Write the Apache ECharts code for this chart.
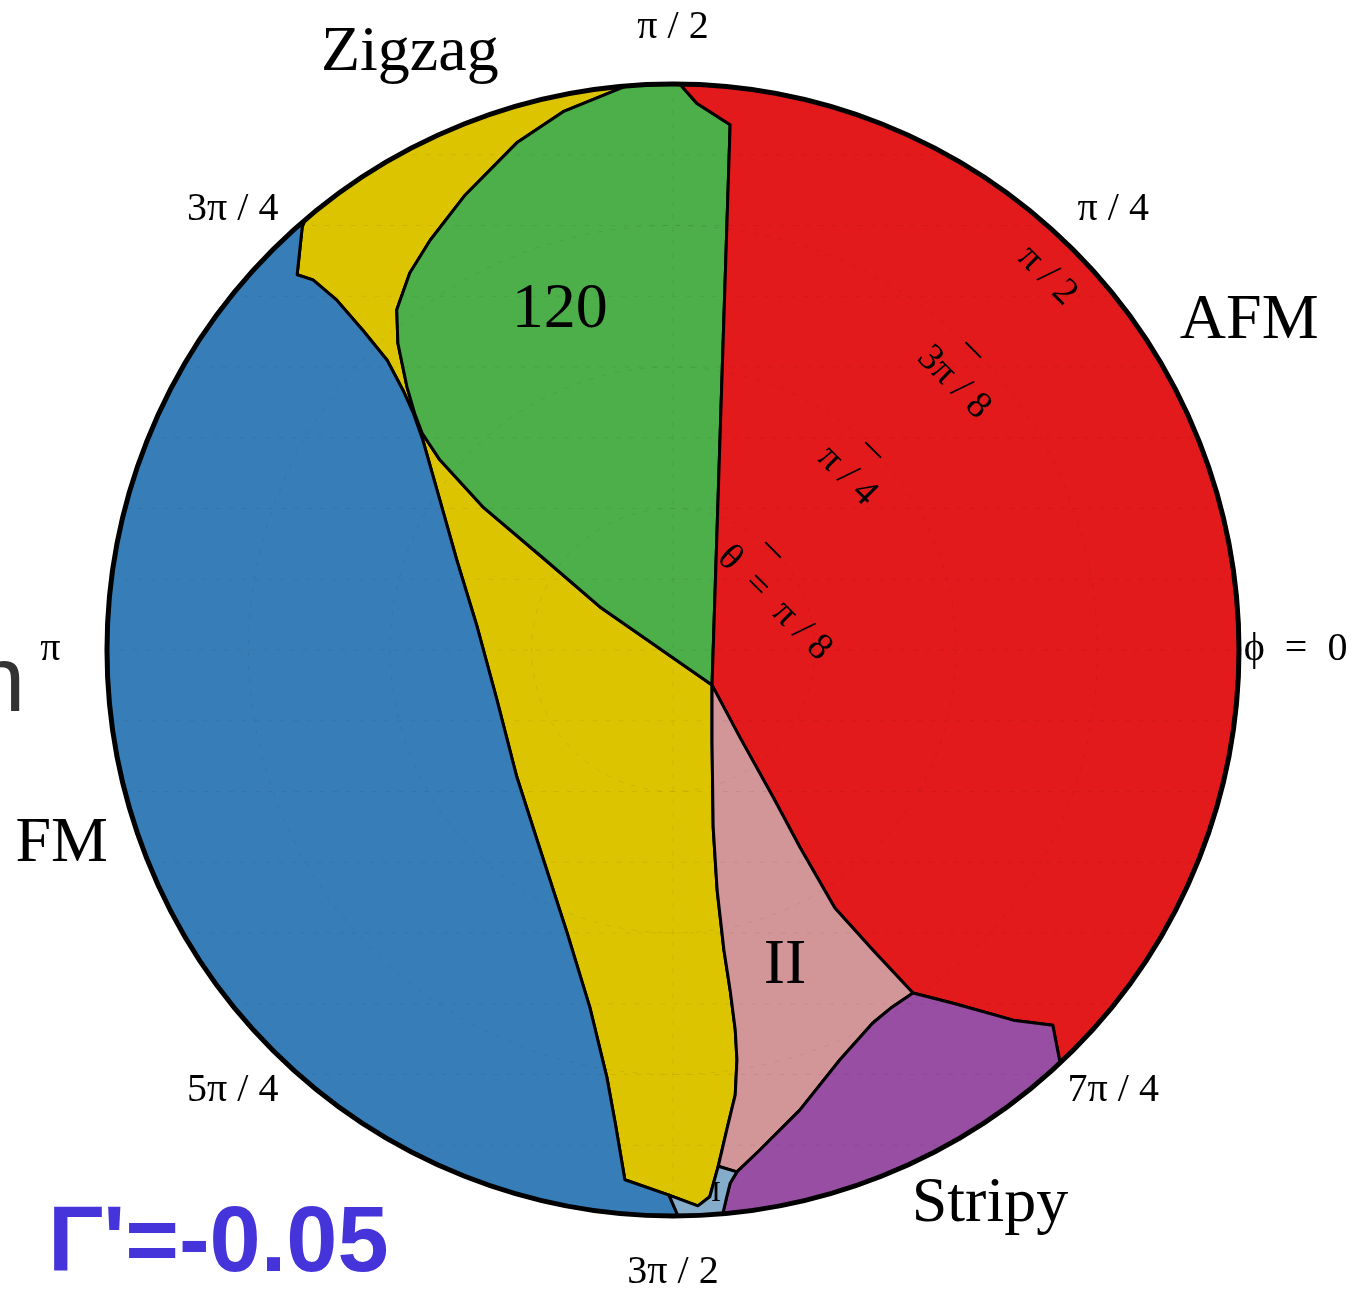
<!DOCTYPE html>
<html>
<head>
<meta charset="utf-8">
<script src="https://cdn.jsdelivr.net/npm/echarts@6/dist/echarts.min.js"></script>
<style>
  html, body { margin: 0; padding: 0; background: #ffffff; }
  #chart { width: 1354px; height: 1291px; }
</style>
</head>
<body>
<div id="chart"></div>
<script>
// Phase diagram on the (theta, phi) disk, Gamma' = -0.05.
// All points are in units of the disk radius, disk centred on the origin.

// Triple points and points where boundaries meet the rim
const J  = [0.069, -0.062];   // AFM / 120 / Zigzag / II
const K  = [0.424, -0.606];   // AFM / II / Stripy
const P1 = [-0.443, 0.383];   // pinch of the Zigzag strip between FM and 120
const Q  = [-0.007, -0.963];  // FM / Zigzag / I
const R1 = [0.080, -0.912];   // Zigzag / II / I
const R2 = [0.113, -0.922];   // II / I / Stripy
const T1 = [0.012, 1.000];    // rim: AFM | 120
const T2 = [-0.081, 0.997];   // rim: 120 | Zigzag
const T3 = [-0.650, 0.760];   // rim: Zigzag | FM
const B1 = [0.009, -1.000];   // rim: FM | I
const B2 = [0.088, -0.996];   // rim: I | Stripy
const B3 = [0.684, -0.730];   // rim: Stripy | AFM

// Phase boundaries
const edgeAfm120 = [J, [0.101, 0.928], [0.042, 0.966], T1];
const edgeZz120Lower = [J, [-0.129, 0.076], [-0.230, 0.163], [-0.336, 0.253], [-0.412, 0.336], P1];
const edgeZz120Upper = [P1, [-0.456, 0.417], [-0.470, 0.465], [-0.486, 0.542], [-0.488, 0.601],
  [-0.465, 0.666], [-0.429, 0.724], [-0.367, 0.804], [-0.276, 0.896], [-0.194, 0.951], T2];
const edgeFmZz = [T3, [-0.655, 0.748], [-0.664, 0.663], [-0.636, 0.654], [-0.594, 0.618],
  [-0.548, 0.565], [-0.505, 0.512], [-0.477, 0.459], [-0.459, 0.419], [-0.442, 0.371],
  [-0.417, 0.283], [-0.382, 0.159], [-0.346, 0.041], [-0.311, -0.088], [-0.276, -0.224],
  [-0.240, -0.336], [-0.187, -0.500], [-0.147, -0.631], [-0.117, -0.754], [-0.102, -0.836],
  [-0.085, -0.936], Q];
const edgeFmI = [Q, B1];
const edgeZzI = [R1, [0.065, -0.966], [0.044, -0.982], Q];
const edgeZzII = [J, [0.069, -0.164], [0.071, -0.313], [0.078, -0.424], [0.090, -0.530],
  [0.101, -0.601], [0.110, -0.671], [0.113, -0.724], [0.110, -0.786], [0.095, -0.848],
  [0.088, -0.878], R1];
const edgeIII = [R1, R2];
const edgeIStripy = [R2, [0.101, -0.942], [0.095, -0.966], B2];
const edgeIIStripy = [R2, [0.154, -0.883], [0.224, -0.813], [0.295, -0.724], [0.353, -0.659],
  [0.387, -0.631], K];
const edgeAfmII = [J, [0.118, -0.154], [0.177, -0.260], [0.224, -0.348], [0.286, -0.456],
  [0.353, -0.530], K];
const edgeAfmStripy = [K, [0.495, -0.624], [0.601, -0.654], [0.671, -0.663], B3];

// Phase names and label anchors
const phaseNames = ['Zigzag', 'FM', '120', 'AFM', 'II', 'Stripy', 'I'];
const phaseLabelPos = [[-0.465, 1.055], [-1.080, -0.343], [-0.200, 0.601], [1.018, 0.581],
  [0.198, -0.558], [0.560, -0.979], [0.076, -0.959]];

// phi ticks around the rim (degrees) and theta rings (fraction of the radius)
const phiTickAngles = [0, 45, 90, 135, 180, 225, 270, 315];
const phiTickLabels = ['\u03D5\u2002=\u20020', '\u03C0 / 4', '\u03C0 / 2', '3\u03C0 / 4', '\u03C0',
  '5\u03C0 / 4', '3\u03C0 / 2', '7\u03C0 / 4'];
const thetaRingRadii = [0.25, 0.5, 0.75, 1.0];
const thetaRingLabels = ['\u03B8\u2002=\u2002\u03C0 / 8', '\u03C0 / 4', '3\u03C0 / 8', '\u03C0 / 2'];

// ---- styling ----
const phaseColors = {
  'AFM': '#E31A1C', '120': '#4DAF4A', 'Zigzag': '#DDC400', 'FM': '#377EB8',
  'I': '#86ACCC', 'Stripy': '#984EA3', 'II': '#D39698'
};
const SERIF = '"Liberation Serif", "DejaVu Serif", serif';

const rev = a => a.slice().reverse();

// Each phase: boundary pieces in order; 'cw'/'ccw' means follow the rim to the next piece
const phaseOutline = {
  'Zigzag': [rev(edgeZz120Upper), rev(edgeZz120Lower), edgeZzII, edgeZzI, rev(edgeFmZz), 'cw'],
  'FM': [edgeFmZz, edgeFmI, 'cw'],
  '120': [rev(edgeAfm120), edgeZz120Lower, edgeZz120Upper, 'cw'],
  'AFM': [rev(edgeAfmStripy), rev(edgeAfmII), edgeAfm120, 'cw'],
  'II': [edgeAfmII, rev(edgeIIStripy), rev(edgeIII), rev(edgeZzII)],
  'Stripy': [edgeIStripy, 'ccw', rev(edgeAfmStripy), rev(edgeIIStripy)],
  'I': [edgeZzI, edgeFmI, 'ccw', rev(edgeIStripy), rev(edgeIII)]
};

function diskFrame(api) {
  const c = api.coord([0, 0]);
  const e = api.coord([1, 0]);
  return { cx: c[0], cy: c[1], R: e[0] - c[0] };
}

function outlinePath(parts, api) {
  const f = diskFrame(api);
  const fmt = p => p[0].toFixed(2) + ' ' + p[1].toFixed(2);
  let d = '';
  let arc = null;
  let first = null;
  const arcTo = (q, dir) => 'A' + f.R.toFixed(2) + ' ' + f.R.toFixed(2) + ' 0 0 ' + (dir === 'cw' ? 1 : 0) + ' ' + fmt(q);
  parts.forEach(part => {
    if (typeof part === 'string') { arc = part; return; }
    part.forEach((pt, j) => {
      const q = api.coord(pt);
      if (first === null) { first = q; d += 'M' + fmt(q); }
      else if (j === 0 && arc) { d += arcTo(q, arc); arc = null; }
      else d += 'L' + fmt(q);
    });
  });
  if (arc) d += arcTo(first, arc);
  return d + 'Z';
}

const chart = echarts.init(document.getElementById('chart'));

const option = {
  animation: false,
  backgroundColor: '#ffffff',
  grid: { left: 0, right: 0, top: 0, bottom: 0 },
  xAxis: { type: 'value', min: -1.1890, max: 1.2032, show: false },
  yAxis: { type: 'value', min: -1.1325, max: 1.1484, show: false },
  graphic: [
    { type: 'text', x: -26, y: 686, silent: true,
      style: { text: 'n', font: '92px "Liberation Sans", Arial, sans-serif', fill: '#333333',
               align: 'left', verticalAlign: 'middle' } },
    { type: 'text', x: 48, y: 1246, silent: true,
      style: { text: "\u0393'=-0.05", font: 'bold 92px "Liberation Sans", Arial, sans-serif',
               fill: '#4534D9', align: 'left', verticalAlign: 'middle' } }
  ],
  series: [
    {
      // phase regions
      type: 'custom', silent: true, clip: false, z: 1,
      data: phaseNames.map(() => [0, 0]),
      renderItem: (params, api) => {
        const name = phaseNames[params.dataIndex];
        return {
          type: 'path',
          shape: { pathData: outlinePath(phaseOutline[name], api) },
          style: { fill: phaseColors[name], stroke: '#000000', lineWidth: 3, lineJoin: 'round' }
        };
      }
    },
    {
      // faint dashed mesh inside the disk
      type: 'custom', silent: true, clip: false, z: 2,
      data: [[0, 0]],
      renderItem: (params, api) => {
        const f = diskFrame(api);
        const st = { fill: 'none', stroke: 'rgba(0,0,0,0.07)', lineWidth: 1, lineDash: [5, 8] };
        const kids = [];
        thetaRingRadii.slice(0, 3).forEach(r => {
          kids.push({ type: 'circle', shape: { cx: f.cx, cy: f.cy, r: r * f.R }, style: st });
        });
        for (let k = -7; k <= 7; k++) {
          const y = k / 8, h = Math.sqrt(1 - y * y);
          const a = api.coord([-h, y]), b = api.coord([h, y]);
          kids.push({ type: 'line', shape: { x1: a[0], y1: a[1], x2: b[0], y2: b[1] }, style: st });
        }
        const t = api.coord([0, 1]), u = api.coord([0, -1]);
        kids.push({ type: 'line', shape: { x1: t[0], y1: t[1], x2: u[0], y2: u[1] }, style: st });
        return { type: 'group', children: kids };
      }
    },
    {
      // rim of the disk
      type: 'custom', silent: true, clip: false, z: 3,
      data: [[0, 0]],
      renderItem: (params, api) => {
        const f = diskFrame(api);
        return { type: 'circle', shape: { cx: f.cx, cy: f.cy, r: f.R },
                 style: { fill: 'none', stroke: '#000000', lineWidth: 5 } };
      }
    },
    {
      // theta ring ticks and labels along the 45 degree ray
      type: 'custom', silent: true, clip: false, z: 4,
      data: thetaRingRadii.map(() => [0, 0]),
      renderItem: (params, api) => {
        const i = params.dataIndex;
        const r = thetaRingRadii[i];
        const c = Math.SQRT1_2;
        const p = api.coord([r * c, r * c]);
        const half = 11 * c;
        return {
          type: 'group',
          children: [
            { type: 'line', shape: { x1: p[0] - half, y1: p[1] - half, x2: p[0] + half, y2: p[1] + half },
              style: { stroke: '#000000', lineWidth: 2 } },
            { type: 'text', x: p[0] - 50, y: p[1] + 2, rotation: -Math.PI / 4,
              style: { text: thetaRingLabels[i], font: '38px ' + SERIF, fill: '#000000',
                       align: 'left', verticalAlign: 'middle' } }
          ]
        };
      }
    },
    {
      // phi labels around the rim
      type: 'custom', silent: true, clip: false, z: 4,
      data: phiTickAngles.map(() => [0, 0]),
      renderItem: (params, api) => {
        const i = params.dataIndex;
        const a = phiTickAngles[i] * Math.PI / 180;
        const p = api.coord([1.10 * Math.cos(a), 1.10 * Math.sin(a)]);
        return { type: 'text', x: p[0], y: p[1],
                 style: { text: phiTickLabels[i], font: '40px ' + SERIF, fill: '#000000',
                          align: 'center', verticalAlign: 'middle' } };
      }
    },
    {
      // phase names
      type: 'custom', silent: true, clip: false, z: 5,
      data: phaseNames.map(() => [0, 0]),
      renderItem: (params, api) => {
        const i = params.dataIndex;
        const p = api.coord(phaseLabelPos[i]);
        const size = phaseNames[i] === 'I' ? 30 : 64;
        return { type: 'text', x: p[0], y: p[1],
                 style: { text: phaseNames[i], font: size + 'px ' + SERIF, fill: '#000000',
                          align: 'center', verticalAlign: 'middle' } };
      }
    }
  ]
};

chart.setOption(option);
</script>
</body>
</html>
